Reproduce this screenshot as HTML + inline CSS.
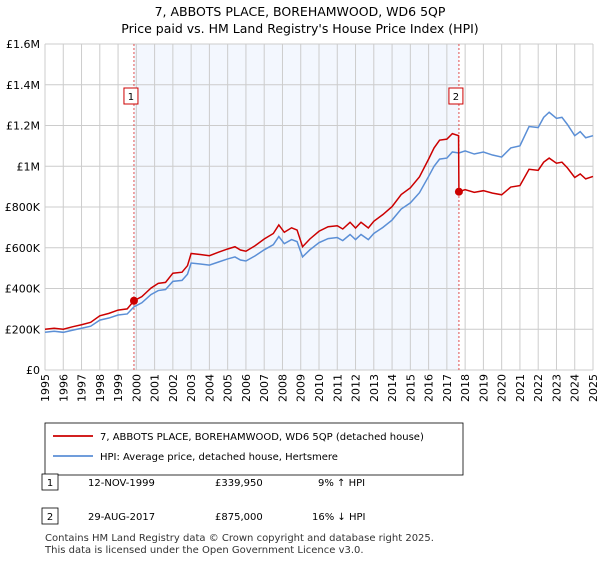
<!DOCTYPE html>
<html><head><meta charset="utf-8"><style>
body{margin:0;background:#fff;font-family:"DejaVu Sans","Liberation Sans",sans-serif;}
svg text{font-family:"DejaVu Sans","Liberation Sans",sans-serif;}
</style></head><body>
<svg width="600" height="560" xmlns="http://www.w3.org/2000/svg">
<text x="300" y="16" text-anchor="middle" font-size="12.5">7, ABBOTS PLACE, BOREHAMWOOD, WD6 5QP</text>
<text x="300" y="33" text-anchor="middle" font-size="12.5">Price paid vs. HM Land Registry's House Price Index (HPI)</text>
<g id="plot"></g>
<g>
<rect x="45" y="423" width="418" height="52" fill="#fff" stroke="#000" stroke-width="0.8"/>
<line x1="53" y1="436" x2="93" y2="436" stroke="#cc0000" stroke-width="1.8"/>
<text x="100" y="440" font-size="10">7, ABBOTS PLACE, BOREHAMWOOD, WD6 5QP (detached house)</text>
<line x1="53" y1="456" x2="93" y2="456" stroke="#5b8fd6" stroke-width="1.8"/>
<text x="100" y="460" font-size="10">HPI: Average price, detached house, Hertsmere</text>
</g>
<g font-size="10">
<rect x="42" y="474" width="16" height="16" fill="#fff" stroke="#000" stroke-width="0.8"/><text x="50" y="486" text-anchor="middle">1</text>
<text x="88" y="486">12-NOV-1999</text><text x="215" y="486">£339,950</text><text x="318" y="486">9% ↑ HPI</text>
<rect x="42" y="508" width="16" height="16" fill="#fff" stroke="#000" stroke-width="0.8"/><text x="50" y="520" text-anchor="middle">2</text>
<text x="88" y="520">29-AUG-2017</text><text x="215" y="520">£875,000</text><text x="312" y="520">16% ↓ HPI</text>
</g>
<text x="45" y="541" font-size="10" fill="#333">Contains HM Land Registry data © Crown copyright and database right 2025.</text>
<text x="45" y="553" font-size="10" fill="#333">This data is licensed under the Open Government Licence v3.0.</text>
</svg>
<script>
const dates=[1995.0,1995.5,1996.0,1996.5,1997.0,1997.5,1998.0,1998.5,1999.0,1999.5,1999.87,2000.3,2000.8,2001.2,2001.6,2002.0,2002.5,2002.8,2003.0,2003.5,2004.0,2004.5,2005.0,2005.4,2005.7,2006.0,2006.5,2007.0,2007.5,2007.8,2008.1,2008.5,2008.8,2009.1,2009.5,2010.0,2010.5,2011.0,2011.3,2011.7,2012.0,2012.3,2012.7,2013.0,2013.5,2014.0,2014.5,2015.0,2015.5,2016.0,2016.3,2016.6,2017.0,2017.3,2017.66,2018.0,2018.5,2019.0,2019.5,2020.0,2020.5,2021.0,2021.5,2022.0,2022.3,2022.6,2023.0,2023.3,2023.6,2024.0,2024.3,2024.6,2025.0];
const hpi=[185,190,185,195,205,215,245,255,270,275,310,330,370,390,395,435,440,470,525,520,515,530,545,555,540,535,560,590,615,655,620,640,630,555,590,625,645,650,635,665,640,665,640,670,700,736,790,820,870,950,1000,1035,1040,1070,1065,1075,1060,1070,1055,1045,1090,1100,1195,1190,1240,1265,1235,1240,1205,1150,1170,1140,1150];
const priceDates=[1995.0,1995.5,1996.0,1996.5,1997.0,1997.5,1998.0,1998.5,1999.0,1999.5,1999.87,2000.3,2000.8,2001.2,2001.6,2002.0,2002.5,2002.8,2003.0,2003.5,2004.0,2004.5,2005.0,2005.4,2005.7,2006.0,2006.5,2007.0,2007.5,2007.8,2008.1,2008.5,2008.8,2009.1,2009.5,2010.0,2010.5,2011.0,2011.3,2011.7,2012.0,2012.3,2012.7,2013.0,2013.5,2014.0,2014.5,2015.0,2015.5,2016.0,2016.3,2016.6,2017.0,2017.3,2017.64,2017.66,2018.0,2018.5,2019.0,2019.5,2020.0,2020.5,2021.0,2021.5,2022.0,2022.3,2022.6,2023.0,2023.3,2023.6,2024.0,2024.3,2024.6,2025.0];
const price=[200,205,200,212,222,234,266,278,294,300,340,360,402,425,430,475,480,512,572,567,561,578,594,605,589,583,610,643,670,712,676,698,687,605,643,681,703,708,692,725,697,725,697,730,763,802,861,894,948,1035,1090,1128,1133,1160,1150,875,885,872,880,868,860,898,905,985,980,1020,1040,1015,1020,992,945,962,938,950];
const sales=[{d:1999.87,v:339.95,n:"1"},{d:2017.66,v:875,n:"2"}];
const yTicks=[0,200,400,600,800,1000,1200,1400,1600];
const yLabels=["£0","£200K","£400K","£600K","£800K","£1M","£1.2M","£1.4M","£1.6M"];
const years=[1995,1996,1997,1998,1999,2000,2001,2002,2003,2004,2005,2006,2007,2008,2009,2010,2011,2012,2013,2014,2015,2016,2017,2018,2019,2020,2021,2022,2023,2024,2025];
const X0=45,X1=593,Y0=370,Y1=44;
const xs=d=>X0+(d-1995)/30*(X1-X0);
const ys=v=>Y0-v/1600*(Y0-Y1);
const g=document.getElementById('plot');const NS="http://www.w3.org/2000/svg";
function mk(t,a,p){const e=document.createElementNS(NS,t);for(const k in a)e.setAttribute(k,a[k]);(p||g).appendChild(e);return e;}
let e=mk('rect',{x:xs(sales[0].d),y:Y1,width:xs(sales[1].d)-xs(sales[0].d),height:Y0-Y1,fill:'#eef3fd',opacity:0.7});


years.forEach(y=>{const l=mk('line',{x1:xs(y),x2:xs(y),y1:Y1,y2:Y0,stroke:'#cccccc','stroke-width':1});


const t=mk('text',{x:0,y:0,'font-size':11,'text-anchor':'end',transform:`translate(${xs(y)+4},${Y0+4}) rotate(-90)`});t.textContent=y;

});
yTicks.forEach((v,i)=>{const l=mk('line',{x1:X0,x2:X1,y1:ys(v),y2:ys(v),stroke:'#cccccc','stroke-width':1});


const t=mk('text',{x:40,y:ys(v)+4,'font-size':11,'text-anchor':'end'});t.textContent=yLabels[i];

});
sales.forEach(s=>{const l=mk('line',{x1:xs(s.d),x2:xs(s.d),y1:Y1,y2:Y0,stroke:'#e05050','stroke-width':1,'stroke-dasharray':'2,2'});

});
let p=mk('polyline',{points:dates.map((d,i)=>xs(d)+','+ys(hpi[i])).join(' '),fill:'none',stroke:'#5b8fd6','stroke-width':1.5});


p=mk('polyline',{points:priceDates.map((d,i)=>xs(d)+','+ys(price[i])).join(' '),fill:'none',stroke:'#cc0000','stroke-width':1.5});


sales.forEach(s=>{const c=mk('circle',{cx:xs(s.d),cy:ys(s.v),r:4,fill:'#cc0000'});


const r=mk('rect',{x:xs(s.d)-10,y:88,width:14,height:16,fill:'#fff',stroke:'#cc0000','stroke-width':1});


const t=mk('text',{x:xs(s.d)-3,y:100,'font-size':10,'text-anchor':'middle'});t.textContent=s.n;

});
</script>
</body></html>
